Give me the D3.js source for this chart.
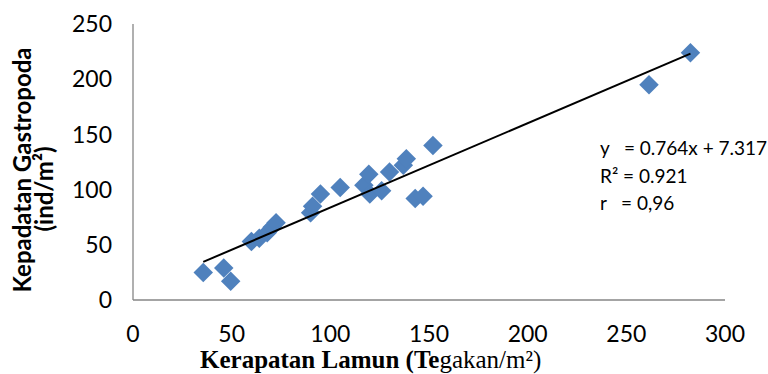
<!DOCTYPE html>
<html>
<head>
<meta charset="utf-8">
<script src="https://cdn.jsdelivr.net/npm/d3@7"></script>
<style>
  html, body { margin: 0; padding: 0; background: #fff; }
  svg { display: block; }
  .tick-label { font-family: Lato, "Open Sans", sans-serif; font-size: 23px; fill: #000; }
  .eq { font-family: Lato, "Open Sans", sans-serif; font-size: 19px; fill: #000; white-space: pre; }
</style>
</head>
<body>
<svg id="chart" width="768" height="374"></svg>
<script>
'use strict';

// ---- Data -------------------------------------------------------------------

// Seagrass density (stands/m²) vs gastropod density (ind/m²).
const kerapatanLamun = [35.6, 46, 49.5, 60, 64, 68, 70.5, 72.5, 90, 91, 95, 105,
                        117, 119.5, 120, 126, 130, 137, 138.5, 152, 143, 147, 261.5, 282.5];
const kepadatanGastropoda = [25, 29, 17, 53, 56, 61, 66, 70, 79, 85, 96, 102,
                             104, 114, 96, 99, 116, 122, 128, 140, 92, 94, 195, 224];

const xTicks = [0, 50, 100, 150, 200, 250, 300];
const yTicks = [0, 50, 100, 150, 200, 250];

// Linear trend line reported in the chart.
const slope = 0.764;
const intercept = 7.317;
const eqLines = ['y   = 0.764x + 7.317', 'R² = 0.921', 'r   = 0,96'];

// ---- Setup ------------------------------------------------------------------

const svg = d3.select('#chart');

const x = d3.scaleLinear().domain([0, 300]).range([133, 725]);
const y = d3.scaleLinear().domain([0, 250]).range([300, 24]);

// Axis lines (no tick marks, grey like Excel defaults).
svg.append('line')
  .attr('x1', x(0)).attr('x2', x(300))
  .attr('y1', y(0)).attr('y2', y(0))
  .attr('stroke', '#868686').attr('stroke-width', 1.3);
svg.append('line')
  .attr('x1', x(0)).attr('x2', x(0))
  .attr('y1', y(0)).attr('y2', y(250))
  .attr('stroke', '#868686').attr('stroke-width', 1.3);

// Tick labels.
svg.append('g').selectAll('text')
  .data(yTicks)
  .join('text')
  .attr('class', 'tick-label')
  .attr('x', 112)
  .attr('y', d => y(d))
  .attr('dy', '0.36em')
  .attr('text-anchor', 'end')
  .text(d => d);

svg.append('g').selectAll('text')
  .data(xTicks)
  .join('text')
  .attr('class', 'tick-label')
  .attr('x', d => x(d))
  .attr('y', 342)
  .attr('text-anchor', 'middle')
  .text(d => d);

// ---- Points -----------------------------------------------------------------

const points = kerapatanLamun.map((v, i) => ({ x: v, y: kepadatanGastropoda[i] }));
const diamond = d3.symbol(d3.symbolSquare, 190);

svg.append('g').selectAll('path')
  .data(points)
  .join('path')
  .attr('d', diamond)
  .attr('transform', d => `translate(${x(d.x)},${y(d.y)}) rotate(45)`)
  .attr('fill', '#4F81BD');

// ---- Trend line -------------------------------------------------------------

const xMin = d3.min(kerapatanLamun), xMax = d3.max(kerapatanLamun);
svg.append('line')
  .attr('x1', x(xMin)).attr('y1', y(intercept + slope * xMin))
  .attr('x2', x(xMax)).attr('y2', y(intercept + slope * xMax))
  .attr('stroke', '#000').attr('stroke-width', 2);

// Equation block.
svg.append('g').selectAll('text')
  .data(eqLines)
  .join('text')
  .attr('class', 'eq')
  .attr('x', 600)
  .attr('y', (d, i) => 155 + i * 27.5)
  .text(d => d);

// ---- Axis titles ------------------------------------------------------------

const yTitle = svg.append('text')
  .attr('transform', 'translate(0,170) rotate(-90)')
  .attr('text-anchor', 'middle')
  .style('font-family', 'Lato, "Open Sans", sans-serif')
  .style('font-weight', 'bold')
  .style('font-size', '24px');
yTitle.append('tspan').attr('x', 0).attr('y', 31).text('Kepadatan Gastropoda');
yTitle.append('tspan').attr('x', -19).attr('y', 53).text('(ind/m²)');

const xTitle = svg.append('text')
  .attr('x', 200)
  .attr('y', 368)
  .style('font-family', '"Liberation Serif", "Times New Roman", serif')
  .style('font-size', '25px');
xTitle.append('tspan').style('font-weight', 'bold').text('Kerapatan Lamun (Te');
xTitle.append('tspan').text('gakan/m²)');
</script>
</body>
</html>
